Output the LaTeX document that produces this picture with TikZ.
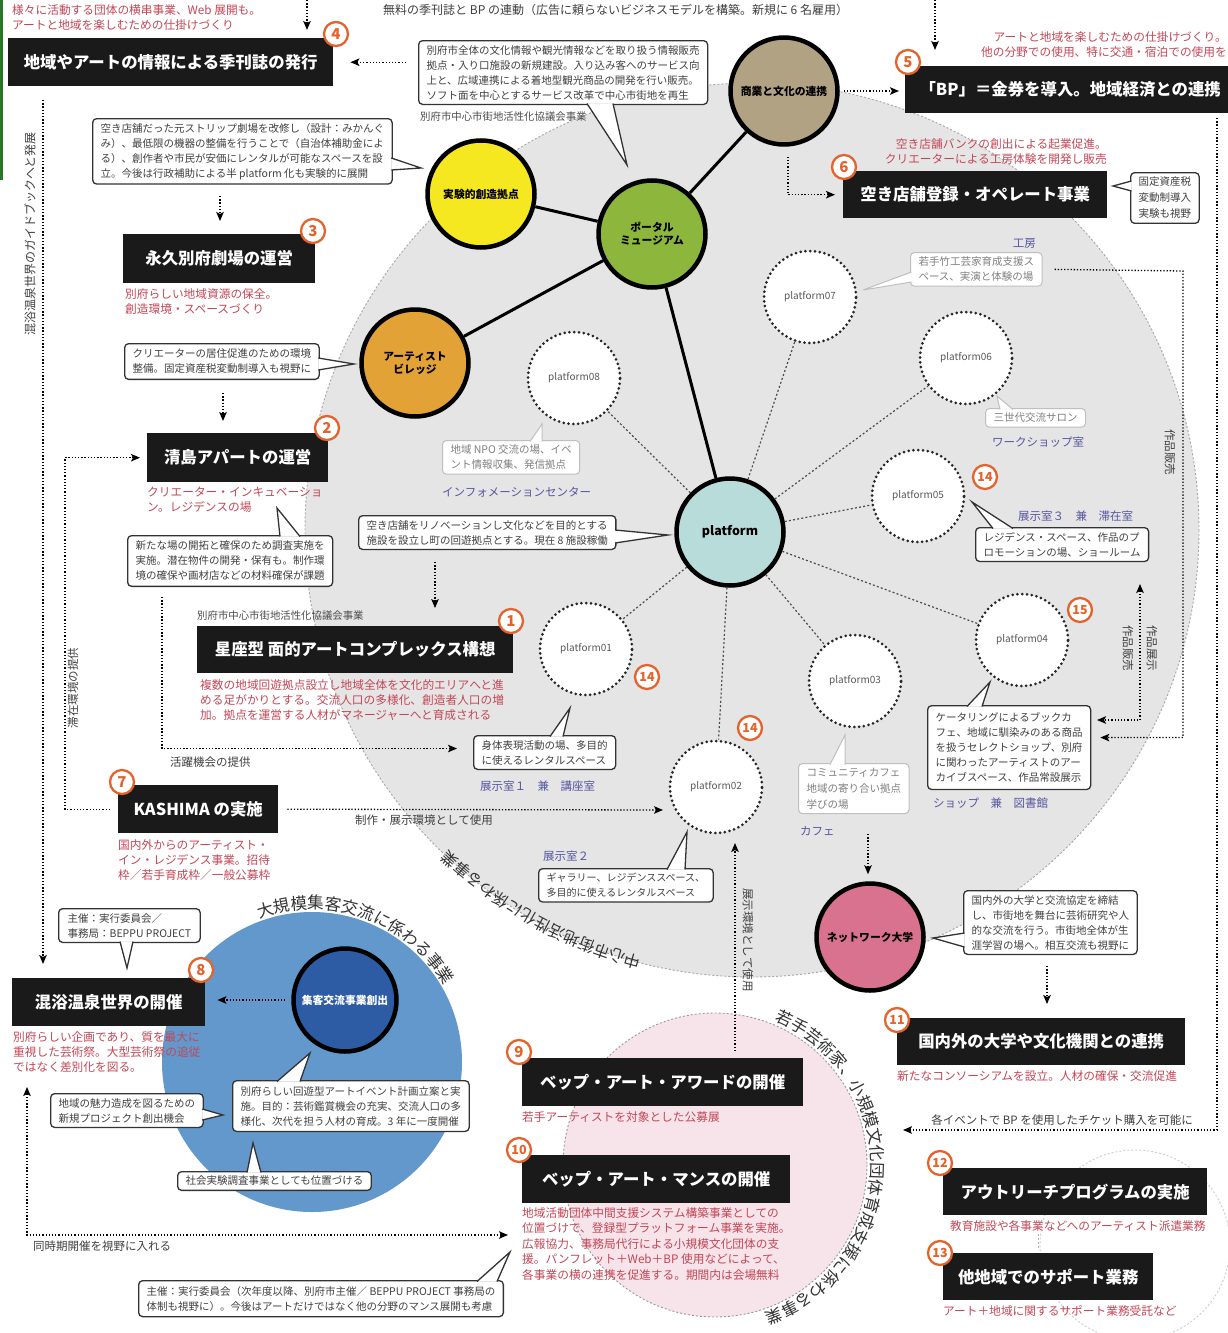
\documentclass[tikz,border=0pt]{standalone}
\usepackage{fontspec}
\setmainfont{Noto Sans CJK JP}
\usetikzlibrary{arrows.meta,calc,decorations.text}

\definecolor{redtxt}{RGB}{196,70,86}
\definecolor{bluetxt}{RGB}{86,86,160}
\definecolor{badgec}{RGB}{228,98,44}
\definecolor{zonegray}{RGB}{229,229,229}
\definecolor{zoneblue}{RGB}{98,152,204}
\definecolor{zonepink}{RGB}{246,228,234}
\definecolor{cyellow}{RGB}{246,232,32}
\definecolor{cgreen}{RGB}{140,182,60}
\definecolor{corange}{RGB}{226,162,54}
\definecolor{cbrown}{RGB}{178,162,132}
\definecolor{cteal}{RGB}{184,220,218}
\definecolor{cpink}{RGB}{216,114,142}
\definecolor{cnavy}{RGB}{46,92,164}
\definecolor{boxblack}{RGB}{26,26,26}
\definecolor{edgegreen}{RGB}{40,120,40}

\newcommand\txsize[2]{\fontsize{#1}{#2}\selectfont}
% speech-bubble pointer: base point A, base point B, tip
\newcommand\calloutptr[4][spikeline]{%
  \fill[white] #2 -- #4 -- #3 -- cycle;
  \draw[#1] #2 -- #4 -- #3;}

\tikzset{
  blackbox/.style={fill=boxblack, text=white, font=\bfseries\txsize{16.4}{18}, inner sep=0pt, anchor=north west},
  badge/.style={circle, draw=badgec, line width=2.3pt, fill=white, text=badgec, font=\bfseries\txsize{15}{15}, inner sep=0pt, minimum size=24pt},
  badgetwo/.style={badge, font=\bfseries\txsize{12.5}{12.5}},
  redtext/.style={text=redtxt, font=\txsize{11.7}{15}, align=left, inner sep=0pt, anchor=north west},
  note/.style={text=black!75, font=\txsize{11.5}{13}, inner sep=0pt},
  smallnote/.style={text=black!70, font=\txsize{10.4}{12}, inner sep=0pt, anchor=north west},
  bluelabel/.style={text=bluetxt, font=\txsize{11.5}{13}, inner sep=0pt, anchor=north west},
  callout/.style={draw=black!80, line width=1.3pt, rounded corners=4pt, fill=white, text=black!75, font=\txsize{10.5}{15}, align=left, inner xsep=8pt, inner ysep=4.5pt, anchor=north west},
  calloutlight/.style={callout, draw=black!25, line width=1pt, text=black!50},
  spikeline/.style={draw=black!80, line width=1.3pt, line join=miter},
  spikelight/.style={draw=black!25, line width=1pt},
  bigdisc/.style={circle, draw=black, line width=4.5pt, minimum size=107pt, inner sep=0pt, font=\bfseries\txsize{10.8}{13}, align=center},
  pfdisc/.style={circle, draw=black!85, line width=3pt, dash pattern=on 0pt off 4.8pt, line cap=round, fill=white, minimum size=92pt, inner sep=0pt, font=\txsize{10}{12}, text=black!65},
  solidlink/.style={draw=black, line width=3pt},
  pflink/.style={draw=black!70, line width=1.2pt, dash pattern=on 2pt off 2.2pt},
  dotline/.style={draw=black, line width=1.3pt, dash pattern=on 1.3pt off 1.9pt},
  dotarrow/.style={dotline, -{Stealth[length=9pt,width=7.5pt,inset=2pt]}},
  dotboth/.style={dotline, {Stealth[length=9pt,width=7.5pt,inset=2pt]}-{Stealth[length=9pt,width=7.5pt,inset=2pt]}},
  zoneedge/.style={draw=black!40, line width=0.9pt, dash pattern=on 2pt off 2pt},
}

\begin{document}
\begin{tikzpicture}[x=1pt,y=-1pt]
\useasboundingbox (0,0) rectangle (1227,1333);
\fill[white] (0,0) rectangle (1227,1333);
\fill[edgegreen] (0,0) rectangle (2.5,180);

% ---------- background zones ----------
\coordinate (gz) at (752,530);
\coordinate (bz) at (312,1062);
\coordinate (pz) at (715,1165);
\coordinate (oz) at (1135,1245);
\fill[zonegray] (gz) circle[radius=447];
\draw[zoneedge, draw=black!35] (gz) circle[radius=447];
\fill[zonepink] (pz) circle[radius=152];
\draw[zoneedge] (pz) circle[radius=152];
\fill[zoneblue] (bz) circle[radius=150];
\draw[zoneedge, draw=black!20] (oz) circle[radius=95];
\path[decorate, decoration={text along path, text align=center, text color=black!80,
  text={|\txsize{16}{16}|中心市街地活性化に係わる事業}}]
  (gz) ++(101:441) arc[start angle=101, end angle=137, radius=441];
\path[decorate, decoration={text along path, text align=center, text color=black!80,
  text={|\txsize{16.5}{16.5}|大規模集客交流に係わる事業}}]
  (bz) ++(-125:153) arc[start angle=-125, end angle=-15, radius=153];
\path[decorate, decoration={text along path, text align=center, text color=black!80,
  text={|\txsize{16.5}{16.5}|若手芸術家、小規模文化団体育成支援に係わる事業}}]
  (pz) ++(-78:156) arc[start angle=-78, end angle=82, radius=156];

% ---------- hub circles ----------
\node[bigdisc, fill=cbrown] (cbiz) at (784,91) {商業と文化の連携};
\node[bigdisc, fill=cyellow] (ccreate) at (481,194) {実験的創造拠点};
\node[bigdisc, fill=cgreen] (cportal) at (652,234) {ポータル\\ミュージアム};
\node[bigdisc, fill=corange] (cvillage) at (415,363) {アーティスト\\ビレッジ};
\node[bigdisc, fill=cteal, font=\bfseries\txsize{12.5}{14}] (cplat) at (730,532) {platform};
\node[bigdisc, fill=cpink] (cnet) at (870,937) {ネットワーク大学};
\node[bigdisc, fill=cnavy, text=white, minimum size=103pt] (cevent) at (345,1000) {集客交流事業創出};

\node[pfdisc] (p1) at (586,649) {platform01};
\node[pfdisc] (p2) at (716,787) {platform02};
\node[pfdisc] (p3) at (855,681) {platform03};
\node[pfdisc] (p4) at (1022,640) {platform04};
\node[pfdisc] (p5) at (918,496) {platform05};
\node[pfdisc] (p6) at (966,358) {platform06};
\node[pfdisc] (p7) at (810,297) {platform07};
\node[pfdisc] (p8) at (574,378) {platform08};

\draw[solidlink] (ccreate) -- (cportal);
\draw[solidlink] (cvillage) -- (cportal);
\draw[solidlink] (cbiz) -- (cportal);
\draw[solidlink] (cportal) -- (cplat);
\foreach \q in {p1,p2,p3,p4,p5,p6,p7,p8} \draw[pflink] (cplat) -- (\q);

% ---------- top row ----------
\node[redtext] (n4) at (12,4) {様々に活動する団体の横串事業、Web 展開も。\\アートと地域を楽しむための仕掛けづくり};
\node[note, anchor=north west, font=\txsize{12}{13}] (nfree) at (383,4) {無料の季刊誌と BP の連動（広告に頼らないビジネスモデルを構築。新規に 6 名雇用）};
\coordinate (t4) at (307,0);
\coordinate (t4e) at (307,30);
\draw[dotarrow] (t4) -- (t4e);
\coordinate (t5) at (935,0);
\coordinate (t5e) at (935,50);
\draw[dotarrow] (t5) -- (t5e);

\node[blackbox, minimum width=325pt, minimum height=48pt] (b4) at (8,38) {地域やアートの情報による季刊誌の発行};
\node[badge] (g4) at (336,34) {4};

\node[callout] (cinfo) at (418,40) {別府市全体の文化情報や観光情報などを取り扱う情報販売\\拠点・入り口施設の新規建設。入り込み客へのサービス向\\上と、広域連携による着地型観光商品の開発を行い販売。\\ソフト面を中心とするサービス改革で中心市街地を再生};
\coordinate (tinfo) at (627,165);
\calloutptr{($(cinfo.south west)+(169,-1.5)$)}{($(cinfo.south west)+(195,-1.5)$)}{(tinfo)}
\node[smallnote] (lcity1) at (420,112) {別府市中心市街地活性化協議会事業};
\draw[dotarrow, shorten <=12pt, shorten >=17pt] (cinfo.west |- b4.east) -- (b4.east);

\node[blackbox, minimum width=330pt, minimum height=47pt] (b5) at (905,66) {「BP」＝金券を導入。地域経済との連携};
\node[badge] (g5) at (908,62) {5};
\node[redtext, anchor=north east, align=right] (n5) at (1227,31) {アートと地域を楽しむための仕掛けづくり。\\他の分野での使用、特に交通・宿泊での使用を};
\draw[dotarrow, shorten <=4pt, shorten >=6pt] (cbiz.east) -- (cbiz.east -| b5.west);

\node[blackbox, minimum width=264pt, minimum height=47pt] (b6) at (843,171) {空き店舗登録・オペレート事業};
\node[badge] (g6) at (844,167) {6};
\node[redtext, anchor=north east, align=right] (n6) at (1107,138) {空き店舗バンクの創出による起業促進。\\クリエーターによる工房体験を開発し販売};
\draw[dotarrow] ($(cbiz.south)+(4,10)$) |- ($(b6.west)+(-8,0)$);
\node[callout, font=\txsize{10.5}{16}] (ctax) at (1130,172) {固定資産税\\変動制導入\\実験も視野};
\coordinate (ttax) at (1113,186);
\calloutptr{($(ctax.north west)+(1.5,9)$)}{($(ctax.north west)+(1.5,19)$)}{(ttax)}

% long line on the right edge
\coordinate (rtop) at (1217,118);
\coordinate (rcorner) at (1217,1130);
\coordinate (rtip) at (903,1130);
\draw[dotarrow] (rtop) -- (rcorner) -- (rtip);
\node[note, anchor=south] (lticket) at (1062,1126) {各イベントで BP を使用したチケット購入を可能に};

% ---------- left column ----------
\coordinate (lvA) at (43,100);
\node[note, rotate=90, font=\txsize{12}{13}] (lguide) at (30,234) {混浴温泉世界のガイドブックへと発展};

\node[callout] (cstrip) at (92,118) {空き店舗だった元ストリップ劇場を改修し（設計：みかんぐ\\み）、最低限の機器の整備を行うことで（自治体補助金によ\\る）、創作者や市民が安価にレンタルが可能なスペースを設\\立。今後は行政補助による半 platform 化も実験的に展開};
\coordinate (tstrip) at (421,168);
\calloutptr{($(cstrip.north east)+(-1.5,40)$)}{($(cstrip.north east)+(-1.5,52)$)}{(tstrip)}
\coordinate (a3s) at (220,196);
\coordinate (a3e) at (220,221);
\draw[dotarrow] (a3s) -- (a3e);

\node[blackbox, minimum width=192pt, minimum height=49pt] (b3) at (123,234) {永久別府劇場の運営};
\node[badge] (g3) at (313,231) {3};
\node[redtext] (n3) at (125,288) {別府らしい地域資源の保全。\\創造環境・スペースづくり};

\node[callout, inner ysep=5.5pt] (cresid) at (124,343) {クリエーターの居住促進のための環境\\整備。固定資産税変動制導入も視野に};
\coordinate (tresid) at (354,364);
\calloutptr{($(cresid.north east)+(-1.5,15)$)}{($(cresid.north east)+(-1.5,27)$)}{(tresid)}
\coordinate (a2s) at (223,393);
\coordinate (a2e) at (223,421);
\draw[dotarrow] (a2s) -- (a2e);

\node[blackbox, minimum width=181pt, minimum height=49pt] (b2) at (147,433) {清島アパートの運営};
\node[badge] (g2) at (327,428) {2};
\node[redtext] (n2) at (147,487) {クリエーター・インキュベーショ\\ン。レジデンスの場};

\node[callout, inner ysep=5.5pt] (c2) at (127,535) {新たな場の開拓と確保のため調査実施を\\実施。潜在物件の開発・保有も。制作環\\境の確保や画材店などの材料確保が課題};
\coordinate (tc2) at (277,508);
\calloutptr{($(c2.north west)+(153,1.5)$)}{($(c2.north west)+(173,1.5)$)}{(tc2)}

\node[callout] (cren) at (358,515) {空き店舗をリノベーションし文化などを目的とする\\施設を設立し町の回遊拠点とする。現在 8 施設稼働};
\coordinate (tren) at (668,535);
\calloutptr{($(cren.north east)+(-1.5,15)$)}{($(cren.north east)+(-1.5,28)$)}{(tren)}
\draw[dotarrow] ($(cren.south west)+(77,12)$) -- ++(0,46);

\node[smallnote] (lcity2) at (197,611) {別府市中心市街地活性化協議会事業};
\node[blackbox, minimum width=316pt, minimum height=47pt] (b1) at (197,626) {星座型 面的アートコンプレックス構想};
\node[badge] (g1) at (511,621) {1};
\node[redtext] (n1) at (200,679) {複数の地域回遊拠点設立し地域全体を文化的エリアへと進\\める足がかりとする。交流人口の多様化、創造者人口の増\\加。拠点を運営する人材がマネージャーへと育成される};

\node[callout] (cbody) at (473,735) {身体表現活動の場、多目的\\に使えるレンタルスペース};
\coordinate (tbody) at (570,708);
\calloutptr{($(cbody.north west)+(77,1.5)$)}{($(cbody.north west)+(90,1.5)$)}{(tbody)}
\node[bluelabel] (l01) at (480,781) {展示室１　兼　講座室};
\node[badgetwo] (g14a) at (647,677) {14};
\draw[dotarrow] ($(c2.south west)+(35,10)$) |- ($(cbody.west)+(-16,-4)$);
\node[note, anchor=north west] (lact) at (170,757) {活躍機会の提供};

\node[blackbox, minimum width=160pt, minimum height=48pt] (b7) at (118,785) {KASHIMA の実施};
\node[badge] (g7) at (122,782) {7};
\node[redtext] (n7) at (118,839) {国内外からのアーティスト・\\イン・レジデンス事業。招待\\枠／若手育成枠／一般公募枠};
\draw[dotarrow] ($(b7.west)+(-8,0)$) -- ++(-45,0) |- ($(b2.west)+(-7,0)$);
\node[note, rotate=90] (lstay) at (73,688) {滞在環境の提供};
\draw[dotarrow] ($(b7.east)+(9,0)$) -- ($(p2.center)+(-53,23)$);
\node[note, anchor=north west] (lmake) at (355,815) {制作・展示環境として使用};

\node[badgetwo] (g14b) at (750,728) {14};
\node[callout, font=\txsize{10}{15}] (cgal) at (538,868) {ギャラリー、レジデンススペース、\\多目的に使えるレンタルスペース};
\coordinate (tgal) at (687,832);
\calloutptr{($(cgal.north west)+(129,1.5)$)}{($(cgal.north west)+(147,1.5)$)}{(tgal)}
\node[bluelabel] (l02) at (543,851) {展示室２};

% ---------- platforms, right side ----------
\node[calloutlight] (c08) at (442,440) {地域 NPO 交流の場、イベ\\ント情報収集、発信拠点};
\coordinate (t08) at (542,424);
\calloutptr[spikelight]{($(c08.north west)+(88,1.5)$)}{($(c08.north west)+(100,1.5)$)}{(t08)}
\node[bluelabel] (l08) at (442,487) {インフォメーションセンター};

\node[calloutlight] (c07) at (910,252) {若手竹工芸家育成支援ス\\ペース、実演と体験の場};
\coordinate (t07) at (863,290);
\calloutptr[spikelight]{($(c07.north west)+(1.5,20)$)}{($(c07.north west)+(1.5,30)$)}{(t07)}
\node[bluelabel, anchor=south east] (l07) at (1036,249) {工房};

\node[calloutlight] (c06) at (985,408) {三世代交流サロン};
\coordinate (t06) at (997,396);
\calloutptr[spikelight]{($(c06.north west)+(15,1.5)$)}{($(c06.north west)+(28,1.5)$)}{(t06)}
\node[bluelabel] (l06) at (992,437) {ワークショップ室};

\node[badgetwo] (g14c) at (985,477) {14};
\node[bluelabel] (l05) at (1018,511) {展示室３　兼　滞在室};
\node[callout] (c05) at (975,527) {レジデンス・スペース、作品のプ\\ロモーションの場、ショールーム};
\coordinate (t05) at (972,502);
\calloutptr{($(c05.north west)+(18,1.5)$)}{($(c05.north west)+(38,1.5)$)}{(t05)}

\node[badgetwo] (g15) at (1080,610) {15};
\node[callout, inner ysep=7pt] (cshop) at (927,705) {ケータリングによるブックカ\\フェ、地域に馴染みのある商品\\を扱うセレクトショップ、別府\\に関わったアーティストのアー\\カイブスペース、作品常設展示};
\coordinate (tshop) at (990,682);
\calloutptr{($(cshop.north west)+(40,1.5)$)}{($(cshop.north west)+(55,1.5)$)}{(tshop)}
\node[bluelabel] (l04) at (933,798) {ショップ　兼　図書館};

\coordinate (sellA) at (1183,271);
\draw[dotarrow] ($(c07.east)+(12,0)$) -- (sellA) |- ($(cshop.east)+(9,-10)$);
\node[note, rotate=-90] (lsell1) at (1170,452) {作品販売};
\coordinate (exA) at (1140,584);
\coordinate (exB) at (1140,720);
\coordinate (exC) at (1097,720);
\draw[dotboth] (exA) -- (exB) -- (exC);
\node[note, rotate=-90] (lsell2) at (1128,648) {作品販売};
\node[note, rotate=-90] (lshowA) at (1152,648) {作品展示};

\node[calloutlight, font=\txsize{10.5}{16}] (ccafe) at (798,763) {コミュニティカフェ\\地域の寄り合い拠点\\学びの場};
\coordinate (tcafe) at (845,735);
\calloutptr[spikelight]{($(ccafe.north west)+(32,1.5)$)}{($(ccafe.north west)+(47,1.5)$)}{(tcafe)}
\node[bluelabel] (l03) at (800,826) {カフェ};
\coordinate (cafeA) at (868,834);
\draw[dotarrow, shorten >=7pt] (cafeA) -- (cafeA |- cnet.north);

\node[callout] (cnetc) at (963,890) {国内外の大学と交流協定を締結\\し、市街地を舞台に芸術研究や人\\的な交流を行う。市街地全体が生\\涯学習の場へ。相互交流も視野に};
\coordinate (tnet) at (933,938);
\calloutptr{($(cnetc.north west)+(1.5,43)$)}{($(cnetc.north west)+(1.5,57)$)}{(tnet)}
\coordinate (netA) at (1047,966);
\node[blackbox, minimum width=288pt, minimum height=47pt] (b11) at (897,1018) {国内外の大学や文化機関との連携};
\draw[dotarrow, shorten >=14pt] (netA) -- (netA |- b11.north);
\node[badgetwo] (g11) at (897,1020) {11};
\node[redtext] (n11) at (897,1070) {新たなコンソーシアムを設立。人材の確保・交流促進};

\node[blackbox, minimum width=264pt, minimum height=47pt] (b12) at (943,1168) {アウトリーチプログラムの実施};
\node[badgetwo] (g12) at (940,1163) {12};
\node[redtext] (n12) at (950,1220) {教育施設や各事業などへのアーティスト派遣業務};
\node[blackbox, minimum width=210pt, minimum height=47pt] (b13) at (943,1253) {他地域でのサポート業務};
\node[badgetwo] (g13) at (940,1253) {13};
\node[redtext] (n13) at (943,1305) {アート＋地域に関するサポート業務受託など};
\draw[zoneedge, draw=black!30] ($(n12.south west)+(88,3)$) -- ($(b13.north west)+(95,-3)$);

% ---------- bottom left ----------
\node[blackbox, minimum width=193pt, minimum height=48pt] (b8) at (12,978) {混浴温泉世界の開催};
\draw[dotarrow, shorten >=14pt] (lvA) -- (lvA |- b8.north);
\node[badge] (g8) at (201,970) {8};
\node[redtext] (n8) at (13,1031) {別府らしい企画であり、質を最大に\\重視した芸術祭。大型芸術祭の追従\\ではなく差別化を図る。};
\node[callout, inner xsep=9pt] (c8) at (58,908) {主催：実行委員会／\\事務局：BEPPU PROJECT};
\coordinate (tc8) at (127,968);
\calloutptr{($(c8.south west)+(62,-1.5)$)}{($(c8.south west)+(75,-1.5)$)}{(tc8)}
\draw[dotarrow, shorten <=6pt, shorten >=12pt] (cevent.west) -- (cevent.west -| b8.east);

\node[callout] (cmiry) at (50,1093) {地域の魅力造成を図るための\\新規プロジェクト創出機会};
\coordinate (tmiry) at (223,1115);
\calloutptr{($(cmiry.north east)+(-1.5,16)$)}{($(cmiry.north east)+(-1.5,27)$)}{(tmiry)}

\node[callout, inner ysep=5.5pt] (ckaiyu) at (232,1080) {別府らしい回遊型アートイベント計画立案と実\\施。目的：芸術鑑賞機会の充実、交流人口の多\\様化、次代を担う人材の育成。3 年に一度開催};
\coordinate (tkaiyu) at (310,1053);
\calloutptr{($(ckaiyu.north west)+(45,1.5)$)}{($(ckaiyu.north west)+(68,1.5)$)}{(tkaiyu)}

\node[callout] (csocial) at (177,1171) {社会実験調査事業としても位置づける};
\coordinate (tsocial) at (253,1143);
\calloutptr{($(csocial.north west)+(70,1.5)$)}{($(csocial.north west)+(84,1.5)$)}{(tsocial)}

\coordinate (simA) at (27,1087);
\coordinate (simB) at (27,1235);
\coordinate (simC) at (508,1235);
\draw[dotboth] (simA) -- (simB) -- (simC);
\node[note, anchor=north west] (lsim) at (33,1241) {同時期開催を視野に入れる};

\node[callout, inner ysep=5.5pt] (cbottom) at (138,1280) {主催：実行委員会（次年度以降、別府市主催／ BEPPU PROJECT 事務局の\\体制も視野に）。今後はアートだけではなく他の分野のマンス展開も考慮};
\coordinate (tbottom) at (510,1252);
\calloutptr{($(cbottom.north west)+(339,1.5)$)}{($(cbottom.north west)+(359,1.5)$)}{(tbottom)}

\node[blackbox, minimum width=281pt, minimum height=48pt] (b9) at (522,1058) {ベップ・アート・アワードの開催};
\node[badge] (g9) at (519,1052) {9};
\node[redtext] (n9) at (522,1111) {若手アーティストを対象とした公募展};
\draw[dotarrow] ($(b9.north west)+(213,-7)$) -- ($(p2.center)+(19,56)$);
\node[note, rotate=-90] (lshow) at (748,940) {展示環境として使用};

\node[blackbox, minimum width=268pt, minimum height=48pt] (b10) at (522,1155) {ベップ・アート・マンスの開催};
\node[badgetwo] (g10) at (519,1150) {10};
\node[redtext, font=\txsize{11.7}{15.5}] (n10) at (522,1207) {地域活動団体中間支援システム構築事業としての\\位置づけで、登録型プラットフォーム事業を実施。\\広報協力、事務局代行による小規模文化団体の支\\援。パンフレット＋Web＋BP 使用などによって、\\各事業の横の連携を促進する。期間内は会場無料};
\end{tikzpicture}
\end{document}
